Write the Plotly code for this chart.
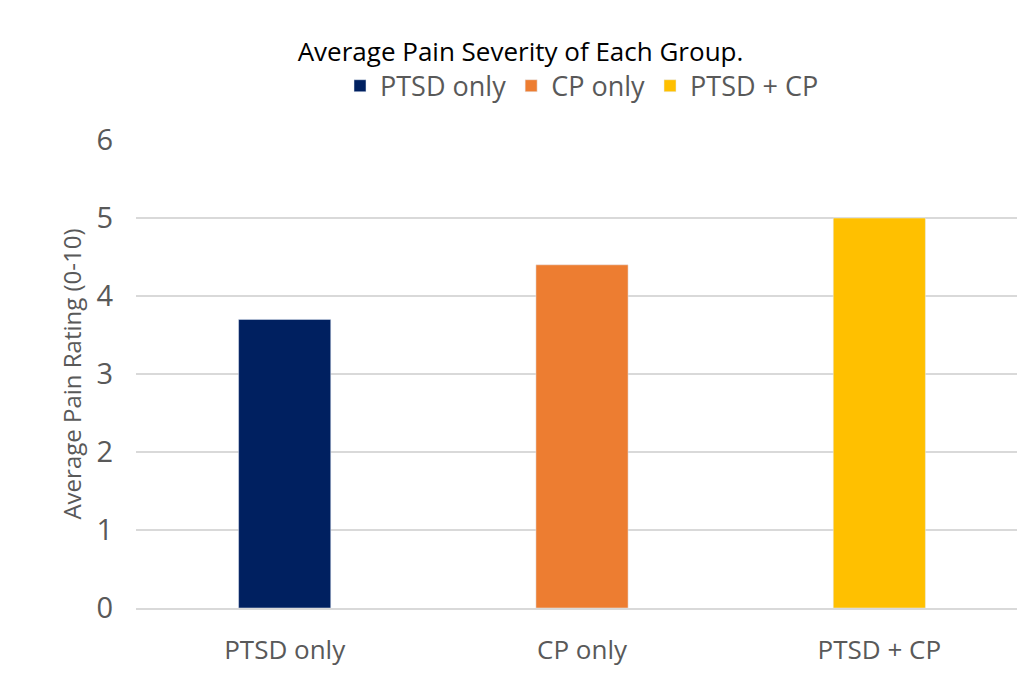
import plotly.graph_objects as go

categories = ["PTSD only", "CP only", "PTSD + CP"]
values = [3.7, 4.4, 5.0]
colors = ["#002060", "#ED7D31", "#FFC000"]
yticks = [0, 1, 2, 3, 4, 5, 6]

fig = go.Figure()
for c, v, col in zip(categories, values, colors):
    fig.add_trace(go.Bar(x=[c], y=[v], name=c, marker_color=col, width=0.31))

fig.update_layout(
    width=1025, height=681,
    barmode="overlay",
    paper_bgcolor="white", plot_bgcolor="white",
    font=dict(family="Open Sans, Noto Sans, sans-serif", color="#595959"),
    margin=dict(l=128, r=5, t=132, b=81),
    title=dict(text="Average Pain Severity of Each Group.", x=0.5, xanchor="center",
               y=0.935, yanchor="middle", font=dict(size=26, color="black")),
    legend=dict(orientation="h", x=0.5, xanchor="center", y=1.115, yanchor="middle",
                font=dict(size=27, color="#595959"), traceorder="normal"),
    xaxis=dict(categoryorder="array", categoryarray=categories,
               tickfont=dict(size=26, color="#595959"), showline=True,
               linecolor="#D9D9D9", linewidth=1.5, ticks="", ticklabelstandoff=18),
    yaxis=dict(range=[0, 6], tickvals=yticks, tickfont=dict(size=29, color="#595959"),
               showgrid=True, gridcolor="#D9D9D9", gridwidth=1.5, zeroline=False,
               ticklabelstandoff=22,
               title=dict(text="Average Pain Rating (0-10)", font=dict(size=24, color="#595959"),
                          standoff=8)),
)
fig.write_html("out.html")
